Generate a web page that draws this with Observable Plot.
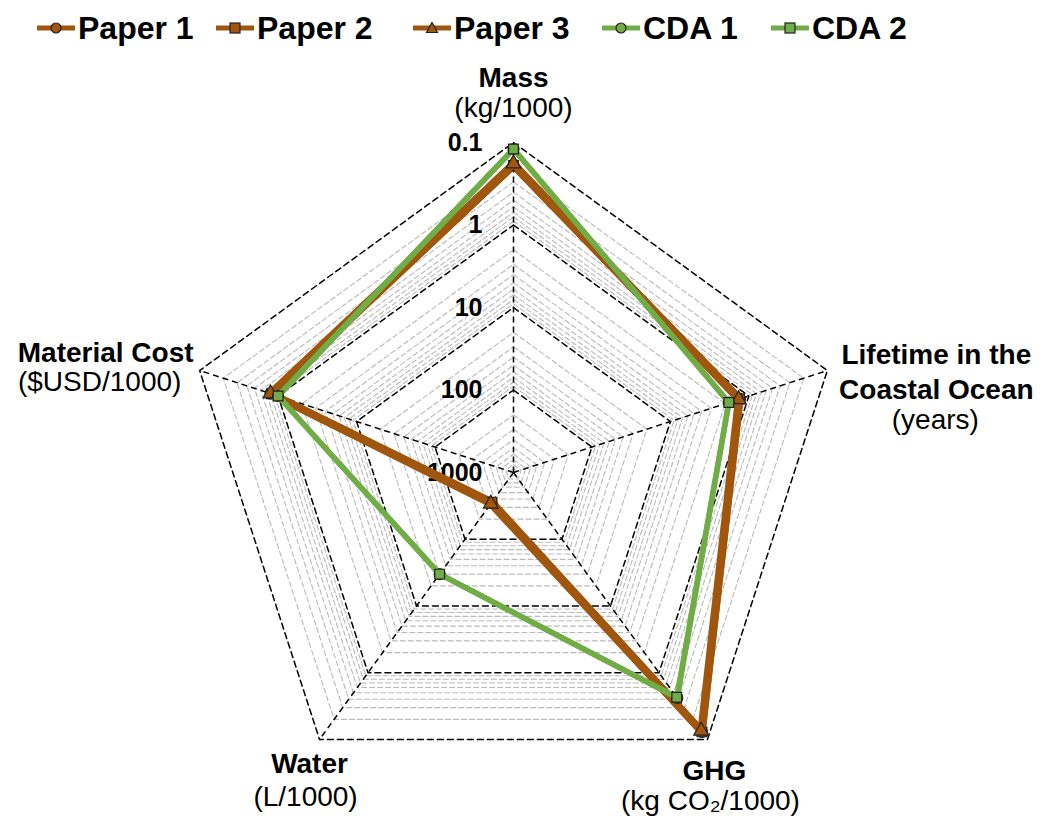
<!DOCTYPE html>
<html><head><meta charset="utf-8">
<script src="https://cdn.jsdelivr.net/npm/d3@7"></script>
<script src="https://cdn.jsdelivr.net/npm/@observablehq/plot@0.6"></script>
<style>
body{margin:0;background:#fff;font-family:"Liberation Sans",Arial,sans-serif;}
#legend{position:relative;width:1042px;height:52px;}
.item{position:absolute;top:9px;height:38px;display:flex;align-items:center;font-weight:bold;font-size:32px;color:#000;white-space:nowrap;}
.item svg{margin-right:3px;}
</style>
</head><body>
<div id="legend"></div>
<div id="chart"></div>
<script>
// ---- data ----
const axisTitles = ["Mass", "Lifetime in the\nCoastal Ocean", "GHG", "Water", "Material Cost"];
const axisUnits = ["(kg/1000)", "(years)", "(kg CO₂/1000)", "(L/1000)", "($USD/1000)"];
const tickValues = [0.1, 1, 10, 100, 1000];
const tickLabels = ["0.1", "1", "10", "100", "1000"];
const seriesNames = ["Paper 1", "Paper 2", "Paper 3", "CDA 1", "CDA 2"];
const paper1 = [0.19, 1.3, 0.13, 350, 0.8];
const paper2 = [0.19, 1.32, 0.13, 360, 0.82];
const paper3 = [0.18, 1.35, 0.135, 340, 0.8];
const cda1 = [0.12, 1.8, 0.42, 30, 1.0];
const cda2 = [0.12, 1.8, 0.43, 30, 1.0];
const seriesValues = [paper1, paper2, paper3, cda1, cda2];

// ---- styles ----
const BROWN = "#A0560C", GREEN = "#70AD47";
const seriesColors = [BROWN, BROWN, BROWN, GREEN, GREEN];
const seriesWidths = [7.5, 7.5, 7.5, 5.5, 5.5];
const seriesSymbols = ["circle", "square", "triangle", "circle", "square"];
const legendLefts = [37, 216, 413, 602, 771];
const titleOffsets = [[0, -67], [109, 0], [7, 29], [-10, 22], [-94, -20]];
const unitOffsets = [[0, -34], [108, 50], [3, 62], [-14, 58], [-100, 12]];

// ---- geometry ----
const W = 1042, H = 764, CX = 513, CY = 420, R = 330;
const rScale = d3.scaleLog().domain([1000, 0.1]).range([0, 1]);
const nAxes = axisTitles.length;
function polar(i, v) {
  const a = i * 2 * Math.PI / nAxes;
  const r = rScale(v);
  return {x: r * Math.sin(a), y: r * Math.cos(a)};
}
function ring(v) {
  return d3.range(nAxes + 1).map(i => ({...polar(i % nAxes, v), level: v}));
}
const decades = [0.1, 1, 10, 100];
const minorLevels = decades.flatMap(d => d3.range(2, 10).map(k => k * d));
const minorRings = minorLevels.flatMap(ring);
const majorRings = tickValues.slice(0, 4).flatMap(ring);
const spokes = d3.range(nAxes).map(i => ({c: polar(i, 1000), o: polar(i, 0.1)}));

const marks = [
  Plot.line(minorRings, {x: "x", y: "y", z: "level", stroke: "#b9b9b9", strokeWidth: 1.1, strokeDasharray: "5,3"}),
  Plot.line(majorRings, {x: "x", y: "y", z: "level", stroke: "#000", strokeWidth: 1.5, strokeDasharray: "6,4"}),
  Plot.link(spokes, {x1: d => d.c.x, y1: d => d.c.y, x2: d => d.o.x, y2: d => d.o.y, stroke: "#000", strokeWidth: 1.5, strokeDasharray: "6,4"}),
  Plot.text(tickValues, {x: v => polar(0, v).x, y: v => polar(0, v).y, text: (v, i) => tickLabels[i], textAnchor: "end", dx: -31, fontSize: 25, fontWeight: "bold", fill: "#000"})
];

seriesNames.forEach((name, s) => {
  const pts = seriesValues[s].map((v, i) => ({...polar(i, v), series: name}));
  marks.push(Plot.line([...pts, pts[0]], {x: "x", y: "y", stroke: seriesColors[s], strokeWidth: seriesWidths[s], strokeLinejoin: "round"}));
  marks.push(Plot.dot(pts, {x: "x", y: "y", symbol: seriesSymbols[s], r: 5.5, fill: seriesColors[s], stroke: "#222", strokeWidth: 1.2}));
});

axisTitles.forEach((t, i) => {
  const p = polar(i, 0.1);
  marks.push(Plot.text([t], {x: () => p.x, y: () => p.y, text: d => d, dx: titleOffsets[i][0], dy: titleOffsets[i][1], fontSize: 28, fontWeight: "bold", lineHeight: 1.24, textAnchor: "middle", fill: "#000"}));
  marks.push(Plot.text([axisUnits[i]], {x: () => p.x, y: () => p.y, text: d => d, dx: unitOffsets[i][0], dy: unitOffsets[i][1], fontSize: 28, textAnchor: "middle", fill: "#000"}));
});

const chart = Plot.plot({
  width: W, height: H, margin: 0,
  x: {domain: [-CX / R, (W - CX) / R], axis: null},
  y: {domain: [-(H - CY) / R, CY / R], axis: null},
  style: {fontFamily: "'Liberation Sans', Arial, sans-serif", background: "#fff"},
  marks
});
document.getElementById("chart").appendChild(chart);

// ---- legend ----
const legend = document.getElementById("legend");
seriesNames.forEach((name, s) => {
  const div = document.createElement("div");
  div.className = "item";
  div.style.left = legendLefts[s] + "px";
  const c = seriesColors[s];
  let sym;
  if (seriesSymbols[s] === "circle") sym = `<circle cx="19" cy="10" r="5" fill="${c}" stroke="#222" stroke-width="1.2"/>`;
  else if (seriesSymbols[s] === "square") sym = `<rect x="14" y="5" width="10" height="10" fill="${c}" stroke="#222" stroke-width="1.2"/>`;
  else sym = `<path d="M19,4.5L24.5,14.5L13.5,14.5Z" fill="${c}" stroke="#222" stroke-width="1.2"/>`;
  div.innerHTML = `<svg width="38" height="20"><line x1="0" y1="10" x2="38" y2="10" stroke="${c}" stroke-width="5"/>${sym}</svg><span>${name}</span>`;
  legend.appendChild(div);
});
</script>
</body></html>
